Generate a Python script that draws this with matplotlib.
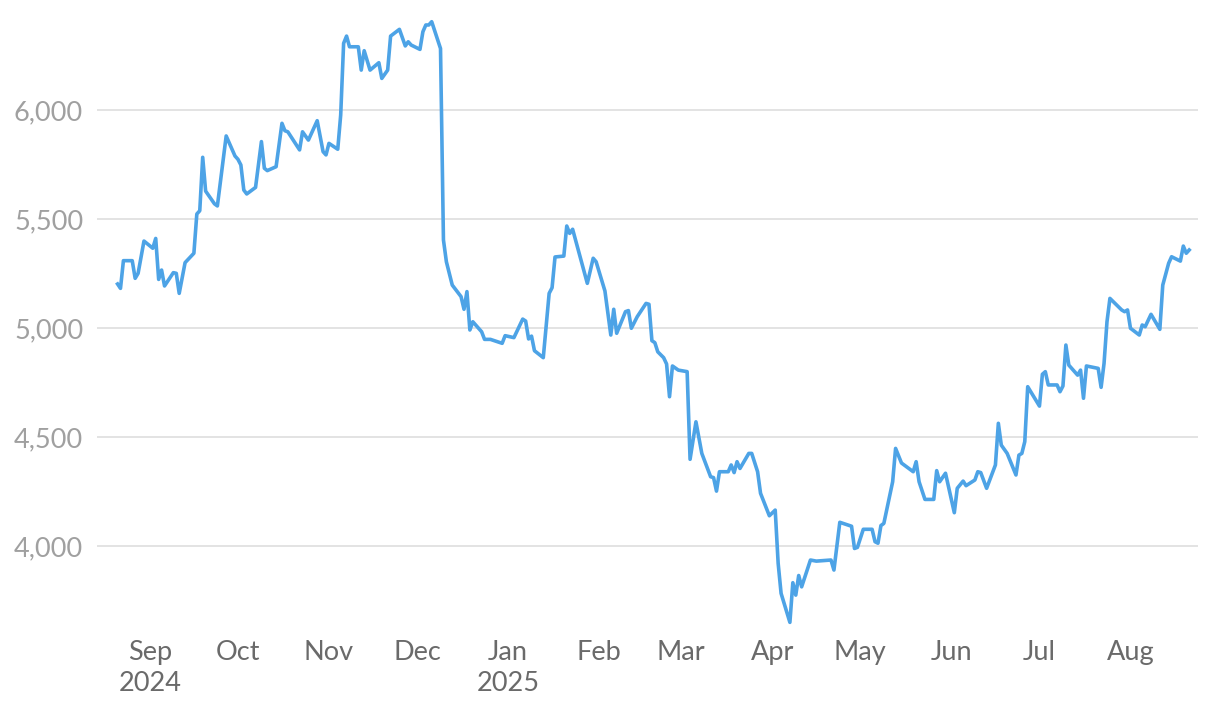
import matplotlib
matplotlib.use("Agg")
import matplotlib.pyplot as plt
import pandas as pd

dates = [
    "2024-08-21", "2024-08-22", "2024-08-23", "2024-08-26", "2024-08-27", "2024-08-28", "2024-08-30",
    "2024-09-02", "2024-09-03", "2024-09-04", "2024-09-05", "2024-09-06", "2024-09-09", "2024-09-10",
    "2024-09-11", "2024-09-13", "2024-09-16", "2024-09-17", "2024-09-18", "2024-09-19", "2024-09-20",
    "2024-09-23", "2024-09-24", "2024-09-27", "2024-09-30",
    "2024-10-01", "2024-10-02", "2024-10-03", "2024-10-04", "2024-10-07", "2024-10-09", "2024-10-10",
    "2024-10-11", "2024-10-14", "2024-10-16", "2024-10-17", "2024-10-18", "2024-10-22", "2024-10-23",
    "2024-10-25", "2024-10-28", "2024-10-30", "2024-10-31",
    "2024-11-01", "2024-11-04", "2024-11-05", "2024-11-06", "2024-11-07", "2024-11-08", "2024-11-11",
    "2024-11-12", "2024-11-13", "2024-11-15", "2024-11-18", "2024-11-19", "2024-11-21", "2024-11-22",
    "2024-11-25", "2024-11-27", "2024-11-28", "2024-11-29",
    "2024-12-02", "2024-12-03", "2024-12-04", "2024-12-05", "2024-12-06", "2024-12-09", "2024-12-10",
    "2024-12-11", "2024-12-13", "2024-12-16", "2024-12-17", "2024-12-18", "2024-12-19", "2024-12-20",
    "2024-12-23", "2024-12-24", "2024-12-26", "2024-12-30", "2024-12-31",
    "2025-01-03", "2025-01-06", "2025-01-07", "2025-01-08", "2025-01-09", "2025-01-10", "2025-01-13",
    "2025-01-15", "2025-01-16", "2025-01-17", "2025-01-20", "2025-01-21", "2025-01-22", "2025-01-23",
    "2025-01-28", "2025-01-30", "2025-01-31",
    "2025-02-03", "2025-02-05", "2025-02-06", "2025-02-07", "2025-02-10", "2025-02-11", "2025-02-12",
    "2025-02-14", "2025-02-17", "2025-02-18", "2025-02-19", "2025-02-20", "2025-02-21", "2025-02-23",
    "2025-02-24", "2025-02-25", "2025-02-26", "2025-02-28",
    "2025-03-03", "2025-03-04", "2025-03-06", "2025-03-08", "2025-03-11", "2025-03-12", "2025-03-13",
    "2025-03-14", "2025-03-17", "2025-03-18", "2025-03-19", "2025-03-20", "2025-03-21", "2025-03-24",
    "2025-03-25", "2025-03-27", "2025-03-28", "2025-03-31",
    "2025-04-02", "2025-04-03", "2025-04-04", "2025-04-07", "2025-04-08", "2025-04-09", "2025-04-10",
    "2025-04-11", "2025-04-14", "2025-04-16", "2025-04-21", "2025-04-22", "2025-04-24", "2025-04-28",
    "2025-04-29", "2025-04-30",
    "2025-05-02", "2025-05-05", "2025-05-06", "2025-05-07", "2025-05-08", "2025-05-09", "2025-05-12",
    "2025-05-13", "2025-05-15", "2025-05-19", "2025-05-20", "2025-05-21", "2025-05-23", "2025-05-26",
    "2025-05-27", "2025-05-28", "2025-05-30",
    "2025-06-02", "2025-06-03", "2025-06-05", "2025-06-06", "2025-06-09", "2025-06-10", "2025-06-11",
    "2025-06-13", "2025-06-16", "2025-06-17", "2025-06-18", "2025-06-20", "2025-06-23", "2025-06-24",
    "2025-06-25", "2025-06-26", "2025-06-27",
    "2025-07-01", "2025-07-02", "2025-07-03", "2025-07-04", "2025-07-07", "2025-07-08", "2025-07-09",
    "2025-07-10", "2025-07-11", "2025-07-14", "2025-07-15", "2025-07-16", "2025-07-17", "2025-07-21",
    "2025-07-22", "2025-07-23", "2025-07-24", "2025-07-25", "2025-07-29", "2025-07-30", "2025-07-31",
    "2025-08-01", "2025-08-04", "2025-08-05", "2025-08-06", "2025-08-08", "2025-08-11", "2025-08-12",
    "2025-08-14", "2025-08-15", "2025-08-18", "2025-08-19", "2025-08-20", "2025-08-21",
]

values = [
    5202, 5182, 5309, 5309, 5228, 5251, 5399,
    5366, 5411, 5223, 5266, 5193, 5254, 5251,
    5159, 5300, 5343, 5523, 5538, 5783, 5628,
    5570, 5560, 5881, 5789,
    5774, 5748, 5633, 5615, 5645, 5855, 5733,
    5722, 5740, 5939, 5905, 5900, 5817, 5900,
    5862, 5951, 5809, 5794,
    5847, 5820, 5977, 6306, 6339, 6290, 6290,
    6183, 6272, 6183, 6217, 6145, 6183, 6339,
    6370, 6294, 6313, 6298,
    6278, 6359, 6390, 6390, 6405, 6282, 5404,
    5304, 5197, 5144, 5086, 5167, 4991, 5029,
    4983, 4948, 4948, 4930, 4965,
    4956, 5041, 5032, 4950, 4963, 4896, 4864,
    5159, 5185, 5326, 5330, 5468, 5434, 5453,
    5205, 5320, 5304,
    5170, 4968, 5086, 4976, 5075, 5080, 4999,
    5052, 5113, 5109, 4942, 4933, 4891, 4864,
    4835, 4685, 4826, 4807,
    4800, 4398, 4570, 4425, 4318, 4314, 4252,
    4341, 4341, 4372, 4337, 4387, 4356, 4425,
    4425, 4341, 4242, 4139,
    4165, 3921, 3783, 3650, 3832, 3775, 3865,
    3813, 3936, 3931, 3936, 3890, 4109, 4091,
    3989, 3994,
    4077, 4077, 4020, 4013, 4094, 4104, 4295,
    4448, 4381, 4341, 4387, 4295, 4214, 4214,
    4346, 4295, 4334,
    4153, 4265, 4298, 4277, 4303, 4341, 4337,
    4265, 4372, 4563, 4463, 4425, 4326, 4417,
    4425, 4479, 4731,
    4642, 4788, 4800, 4739, 4739, 4708, 4734,
    4922, 4830, 4784, 4807, 4678, 4826, 4815,
    4728, 4838, 5029, 5136, 5083, 5075, 5083,
    4999, 4968, 5014, 5006, 5063, 4994, 5197,
    5297, 5327, 5307, 5376, 5343, 5358,
]

y_ticks = [4000, 4500, 5000, 5500, 6000]
y_tick_labels = ["4,000", "4,500", "5,000", "5,500", "6,000"]
x_ticks = ["2024-09-01", "2024-10-01", "2024-11-01", "2024-12-01", "2025-01-01", "2025-02-01",
           "2025-03-01", "2025-04-01", "2025-05-01", "2025-06-01", "2025-07-01", "2025-08-01"]
x_tick_labels = ["Sep\n2024", "Oct", "Nov", "Dec", "Jan\n2025", "Feb",
                 "Mar", "Apr", "May", "Jun", "Jul", "Aug"]

plt.rcParams["font.family"] = ["Lato", "DejaVu Sans"]

fig = plt.figure(figsize=(12.2, 7.12), dpi=100)
ax = fig.add_axes([97 / 1220, 1 - 625 / 712, (1198 - 97) / 1220, 607 / 712])

x = pd.to_datetime(dates)
ax.plot(x, values, color="#4da3e6", lw=2.6, solid_joinstyle="round", zorder=3)

ax.set_ylim(3638, 6422)
ax.set_xlim(pd.Timestamp("2024-08-14"), pd.Timestamp("2025-08-24"))

ax.set_yticks(y_ticks)
ax.set_yticklabels(y_tick_labels)
ax.set_xticks(pd.to_datetime(x_ticks))
ax.set_xticklabels(x_tick_labels, linespacing=1.3)

ax.grid(axis="y", color="#e3e3e3", lw=1.4, zorder=0)
ax.grid(axis="x", visible=False)
for s in ax.spines.values():
    s.set_visible(False)
ax.tick_params(axis="both", length=0)
ax.tick_params(axis="y", pad=10, labelsize=19.5, labelcolor="#a0a0a0")
ax.tick_params(axis="x", pad=11, labelsize=19.5, labelcolor="#6a6a6a")
for lab in ax.get_xticklabels() + ax.get_yticklabels():
    lab.set_fontweight("normal")

fig.savefig("out.png", dpi=100)
